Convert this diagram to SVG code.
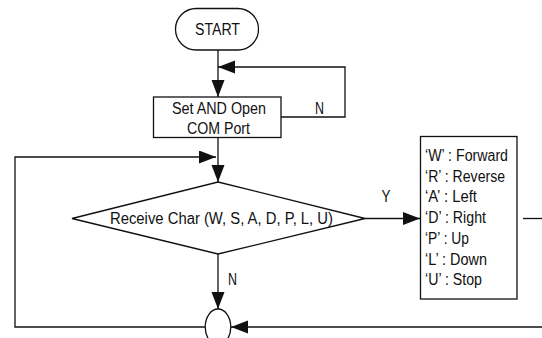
<svg xmlns="http://www.w3.org/2000/svg" width="542" height="338" viewBox="0 0 542 338">
<style>
.s{fill:#fff;stroke:#111;stroke-width:1.3}
.c{fill:none;stroke:#111;stroke-width:1.3}
text{font-family:"Liberation Sans",Arial,sans-serif;font-size:16px;fill:#111}
.m{text-anchor:middle}
</style>
<defs>
<marker id="ah" markerUnits="userSpaceOnUse" markerWidth="18" markerHeight="14" refX="17" refY="6.5" orient="auto">
<path d="M0,0 L17,6.5 L0,13 z" fill="#111"/>
</marker>
</defs>
<rect width="542" height="338" fill="#fff"/>
<g id="connectors">
<line class="c" x1="218" y1="50" x2="218" y2="97" marker-end="url(#ah)"/>
<polyline class="c" points="281,117 345,117 345,67 218,67" marker-end="url(#ah)"/>
<line class="c" x1="218" y1="137" x2="218" y2="182" marker-end="url(#ah)"/>
<polyline class="c" points="205,327 15,327 15,157 216,157" marker-end="url(#ah)"/>
<line class="c" x1="365" y1="218.5" x2="420" y2="218.5" marker-end="url(#ah)"/>
<line class="c" x1="218" y1="254" x2="218" y2="309" marker-end="url(#ah)"/>
<line class="c" x1="523" y1="218.5" x2="542" y2="218.5"/>
<line class="c" x1="542" y1="327" x2="231" y2="327" marker-end="url(#ah)"/>
<text x="319.5" y="113.5" class="m" textLength="9" lengthAdjust="spacingAndGlyphs">N</text>
<text x="386" y="201.5" class="m" textLength="9" lengthAdjust="spacingAndGlyphs">Y</text>
<text x="228" y="285" textLength="9" lengthAdjust="spacingAndGlyphs">N</text>
</g>
<g id="start">
<rect class="s" x="175.5" y="8.5" width="83" height="41.5" rx="20.7"/>
<text x="217.5" y="35" class="m" textLength="45" lengthAdjust="spacingAndGlyphs">START</text>
</g>
<g id="setport">
<rect class="s" x="153.5" y="97" width="127.5" height="40.5"/>
<text x="219" y="113.5" class="m" textLength="94" lengthAdjust="spacingAndGlyphs">Set AND Open</text>
<text x="218.5" y="134" class="m" textLength="63" lengthAdjust="spacingAndGlyphs">COM Port</text>
</g>
<g id="receive">
<polygon class="s" points="218,182 365,218.5 218,254 72,218.5"/>
<text x="221.5" y="223.5" class="m" textLength="223" lengthAdjust="spacingAndGlyphs">Receive Char (W, S, A, D, P, L, U)</text>
</g>
<g id="commands">
<rect class="s" x="420.5" y="136.5" width="96.5" height="162.5"/>
<text x="425" y="161" textLength="83" lengthAdjust="spacingAndGlyphs">‘W’ : Forward</text>
<text x="425" y="181.7" textLength="80" lengthAdjust="spacingAndGlyphs">‘R’ : Reverse</text>
<text x="425" y="202.4" textLength="52" lengthAdjust="spacingAndGlyphs">‘A’ : Left</text>
<text x="425" y="223.1" textLength="61" lengthAdjust="spacingAndGlyphs">‘D’ : Right</text>
<text x="425" y="243.8" textLength="44" lengthAdjust="spacingAndGlyphs">‘P’ : Up</text>
<text x="425" y="264.5" textLength="62" lengthAdjust="spacingAndGlyphs">‘L’ : Down</text>
<text x="425" y="285.2" textLength="57" lengthAdjust="spacingAndGlyphs">‘U’ : Stop</text>
</g>
<g id="junction">
<ellipse class="s" cx="218" cy="327" rx="12.8" ry="18"/>
</g>
</svg>
